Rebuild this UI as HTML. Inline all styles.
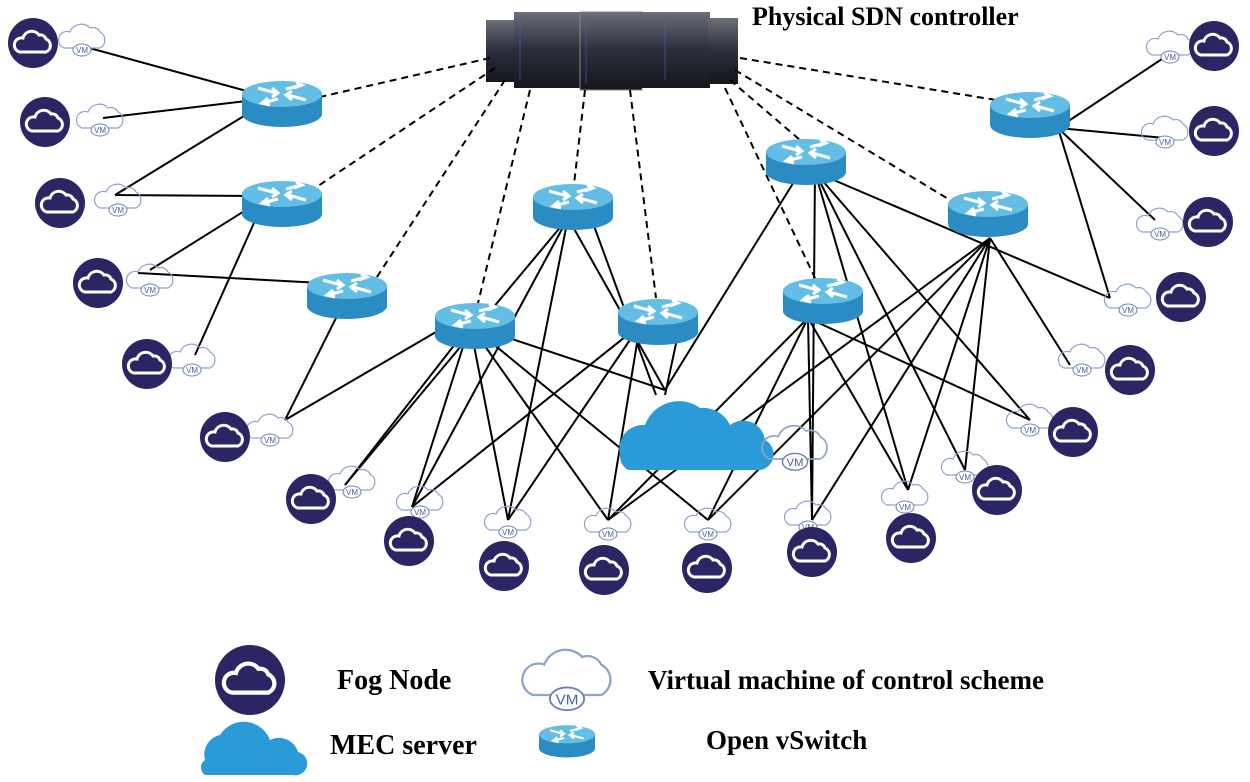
<!DOCTYPE html>
<html><head><meta charset="utf-8"><style>
html,body{margin:0;padding:0;background:#fff;}
svg{display:block;}
text{font-family:"Liberation Serif",serif;font-weight:bold;fill:#000;}
</style></head><body>
<svg width="1250" height="782" viewBox="0 0 1250 782" xmlns="http://www.w3.org/2000/svg">
<defs>
<g id="rt">
<path d="M-40,-8 V12 A40,13 0 0 0 40,12 V-8 Z" fill="#2a8cc2"/>
<ellipse cx="0" cy="-8" rx="40" ry="13" fill="#63bde5"/>
<g stroke="#fff" stroke-width="3" fill="none">
<path d="M-24,-14 L-6,-9 M-10,-14 L-4,-9 L-10,-5"/>
<path d="M24,-2 L6,-7 M10,-2 L4,-7 L10,-11"/>
<path d="M-4,-3 L-20,1 M-14,-4 L-20,1 L-12,3"/>
<path d="M4,-13 L20,-17 M14,-20 L20,-17 L12,-14"/>
</g>
</g>
<g id="fog">
<circle r="25" fill="#2b2564"/>
<path d="M-13,9 H13 A7,7 0 0 0 13,-4 A6,6 0 0 0 6,-8 A9,9 0 0 0 -10,-5 A7,7 0 0 0 -13,9 Z" fill="none" stroke="#fff" stroke-width="3"/>
</g>
<g id="vm">
<path d="M-18,10 H18 A9,9 0 0 0 18,-6 A8,8 0 0 0 8,-10 A12,12 0 0 0 -12,-6 A8,8 0 0 0 -18,10 Z" fill="none" stroke="#8fa3c8" stroke-width="1.2"/>
<ellipse cx="0" cy="12" rx="9" ry="6" fill="#fff" stroke="#6b82b8" stroke-width="1"/>
<text x="0" y="15" font-size="8" text-anchor="middle" style="font-family:'Liberation Sans',sans-serif;font-weight:normal;fill:#4a62a0">VM</text>
</g>
<linearGradient id="srv" x1="0" x2="0" y1="0" y2="1">
<stop offset="0" stop-color="#6a6e78"/><stop offset="0.5" stop-color="#2b2f3a"/><stop offset="1" stop-color="#15171c"/>
</linearGradient>
</defs>

<!-- server -->
<g>
<rect x="486" y="20" width="34" height="62" fill="url(#srv)"/>
<rect x="514" y="12" width="68" height="76" fill="url(#srv)"/>
<rect x="580" y="12" width="62" height="78" fill="url(#srv)" stroke="#888"/>
<rect x="640" y="12" width="70" height="76" fill="url(#srv)"/>
<rect x="708" y="18" width="30" height="66" fill="url(#srv)"/>
<g stroke="#4a5ac8" stroke-width="1" opacity=".6">
<line x1="520" y1="22" x2="520" y2="80"/><line x1="586" y1="22" x2="586" y2="84"/><line x1="665" y1="22" x2="665" y2="80"/>
</g>
</g>
<text x="752" y="25" font-size="26">Physical SDN controller</text>

<!-- dashed -->
<g stroke="#000" stroke-width="2" stroke-dasharray="7,5" fill="none">
<line x1="490" y1="58" x2="320" y2="97"/>
<line x1="495" y1="68" x2="318" y2="186"/>
<line x1="505" y1="80" x2="375" y2="280"/>
<line x1="530" y1="90" x2="478" y2="303"/>
<line x1="585" y1="90" x2="574" y2="184"/>
<line x1="630" y1="90" x2="656" y2="298"/>
<line x1="730" y1="80" x2="800" y2="140"/>
<line x1="725" y1="88" x2="815" y2="278"/>
<line x1="735" y1="70" x2="950" y2="200"/>
<line x1="740" y1="58" x2="996" y2="100"/>
</g>

<!-- solid -->
<g stroke="#000" stroke-width="2" fill="none">
<line x1="82" y1="46" x2="272" y2="98"/>
<line x1="103" y1="118" x2="272" y2="98"/>
<line x1="115" y1="195" x2="270" y2="100"/>
<line x1="115" y1="195" x2="262" y2="196"/>
<line x1="138" y1="273" x2="340" y2="284"/>
<line x1="150" y1="270" x2="262" y2="200"/>
<line x1="195" y1="355" x2="262" y2="205"/>
<line x1="285" y1="420" x2="350" y2="290"/>
<line x1="285" y1="420" x2="460" y2="318"/>
<line x1="470" y1="325" x2="345" y2="485"/>
<line x1="470" y1="325" x2="412" y2="507"/>
<line x1="470" y1="325" x2="508" y2="520"/>
<line x1="470" y1="325" x2="608" y2="520"/>
<line x1="470" y1="325" x2="708" y2="520"/>
<line x1="470" y1="325" x2="665" y2="390"/>
<line x1="568" y1="218" x2="345" y2="485"/>
<line x1="568" y1="218" x2="412" y2="507"/>
<line x1="568" y1="218" x2="508" y2="520"/>
<line x1="568" y1="218" x2="665" y2="390"/>
<line x1="590" y1="215" x2="656" y2="395"/>
<line x1="640" y1="325" x2="412" y2="507"/>
<line x1="640" y1="325" x2="508" y2="520"/>
<line x1="640" y1="325" x2="608" y2="520"/>
<line x1="680" y1="325" x2="665" y2="395"/>
<line x1="800" y1="172" x2="665" y2="390"/>
<line x1="815" y1="172" x2="908" y2="490"/>
<line x1="815" y1="172" x2="965" y2="470"/>
<line x1="815" y1="172" x2="1030" y2="420"/>
<line x1="815" y1="172" x2="1110" y2="298"/>
<line x1="815" y1="172" x2="812" y2="520"/>
<line x1="808" y1="318" x2="608" y2="520"/>
<line x1="808" y1="318" x2="708" y2="520"/>
<line x1="808" y1="318" x2="812" y2="520"/>
<line x1="808" y1="318" x2="908" y2="490"/>
<line x1="808" y1="318" x2="1030" y2="420"/>
<line x1="990" y1="238" x2="708" y2="520"/>
<line x1="990" y1="238" x2="608" y2="520"/>
<line x1="990" y1="238" x2="812" y2="520"/>
<line x1="990" y1="238" x2="908" y2="490"/>
<line x1="990" y1="238" x2="965" y2="470"/>
<line x1="990" y1="238" x2="1070" y2="365"/>
<line x1="1058" y1="128" x2="1168" y2="55"/>
<line x1="1058" y1="128" x2="1165" y2="138"/>
<line x1="1058" y1="128" x2="1155" y2="220"/>
<line x1="1058" y1="128" x2="1110" y2="298"/>
</g>

<!-- MEC cloud -->
<path d="M628,470 H760 A16,16 0 0 0 765,440 A22,22 0 0 0 730,425 A30,30 0 0 0 700,408 A36,36 0 0 0 645,425 A24,24 0 0 0 620,455 A16,16 0 0 0 628,470 Z" fill="#2b9bd7"/>
<g transform="translate(795,445) scale(1.4)"><use href="#vm"/></g>

<!-- routers -->
<use href="#rt" x="282" y="102"/>
<use href="#rt" x="282" y="202"/>
<use href="#rt" x="347" y="294"/>
<use href="#rt" x="573" y="205"/>
<use href="#rt" x="475" y="324"/>
<use href="#rt" x="658" y="320"/>
<use href="#rt" x="806" y="160"/>
<use href="#rt" x="823" y="299"/>
<use href="#rt" x="988" y="212"/>
<use href="#rt" x="1030" y="113"/>

<!-- VMs -->
<use href="#vm" x="82" y="38"/>
<use href="#vm" x="100" y="118"/>
<use href="#vm" x="118" y="198"/>
<use href="#vm" x="150" y="278"/>
<use href="#vm" x="192" y="358"/>
<use href="#vm" x="270" y="428"/>
<use href="#vm" x="352" y="480"/>
<use href="#vm" x="420" y="500"/>
<use href="#vm" x="508" y="520"/>
<use href="#vm" x="608" y="522"/>
<use href="#vm" x="708" y="522"/>
<use href="#vm" x="808" y="515"/>
<use href="#vm" x="905" y="495"/>
<use href="#vm" x="965" y="465"/>
<use href="#vm" x="1030" y="418"/>
<use href="#vm" x="1082" y="358"/>
<use href="#vm" x="1128" y="298"/>
<use href="#vm" x="1160" y="222"/>
<use href="#vm" x="1165" y="130"/>
<use href="#vm" x="1170" y="45"/>

<!-- fog nodes -->
<use href="#fog" x="33" y="43"/>
<use href="#fog" x="45" y="122"/>
<use href="#fog" x="60" y="203"/>
<use href="#fog" x="98" y="283"/>
<use href="#fog" x="147" y="364"/>
<use href="#fog" x="225" y="437"/>
<use href="#fog" x="311" y="499"/>
<use href="#fog" x="409" y="541"/>
<use href="#fog" x="504" y="566"/>
<use href="#fog" x="604" y="570"/>
<use href="#fog" x="707" y="568"/>
<use href="#fog" x="812" y="552"/>
<use href="#fog" x="911" y="538"/>
<use href="#fog" x="997" y="490"/>
<use href="#fog" x="1073" y="432"/>
<use href="#fog" x="1130" y="370"/>
<use href="#fog" x="1181" y="297"/>
<use href="#fog" x="1208" y="222"/>
<use href="#fog" x="1214" y="131"/>
<use href="#fog" x="1214" y="46"/>

<!-- legend -->
<g transform="translate(250,680) scale(1.4)"><use href="#fog"/></g>
<text x="337" y="689" font-size="28">Fog Node</text>
<g transform="translate(567,676) scale(1.9)"><use href="#vm"/></g>
<text x="648" y="689" font-size="27">Virtual machine of control scheme</text>
<path d="M205,775 H293 A10,10 0 0 0 298,752 A20,20 0 0 0 270,740 A28,28 0 0 0 220,735 A20,20 0 0 0 205,760 A9,9 0 0 0 205,775 Z" fill="#2b9bd7"/>
<text x="330" y="754" font-size="28">MEC server</text>
<g transform="translate(567,740) scale(0.7)"><use href="#rt"/></g>
<text x="706" y="749" font-size="27">Open vSwitch</text>
</svg>
</body></html>
